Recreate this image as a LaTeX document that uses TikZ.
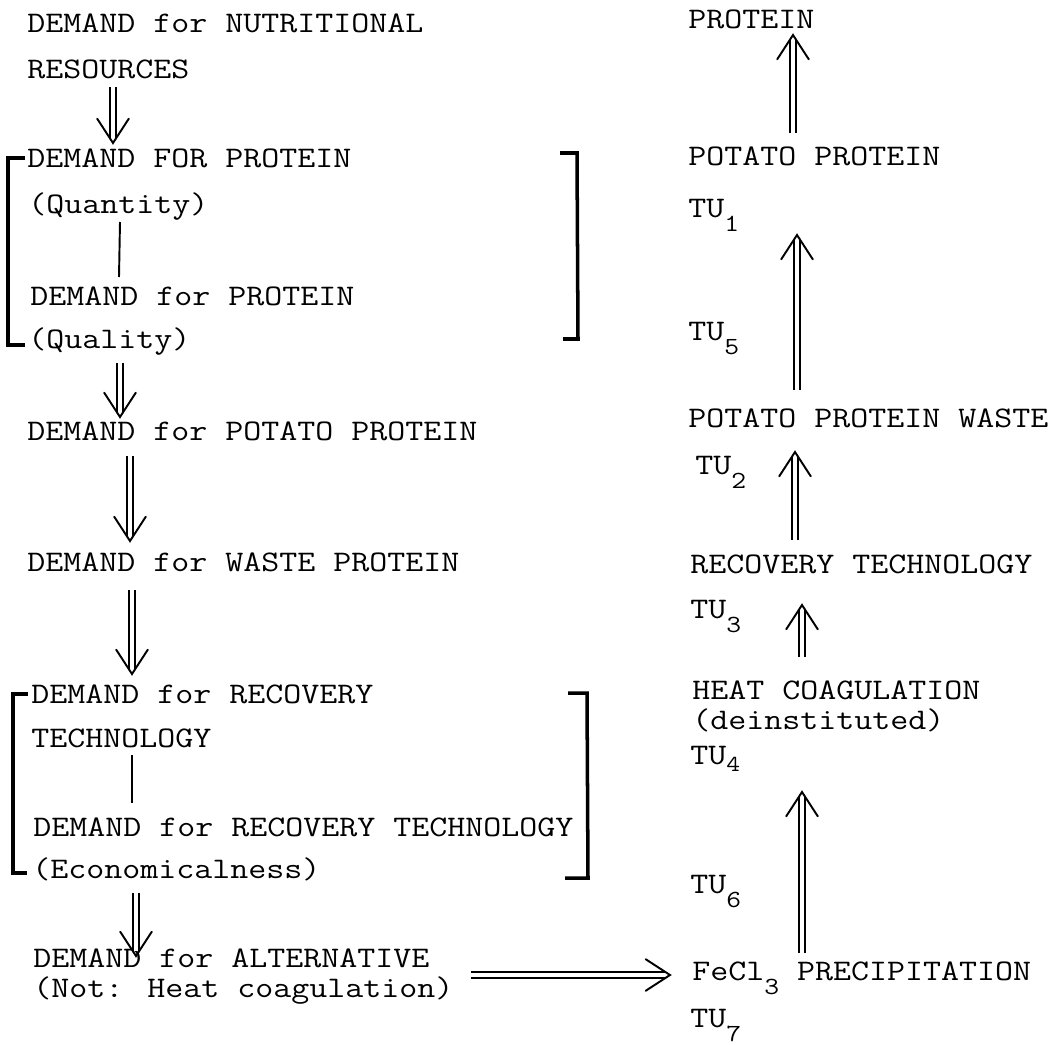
\documentclass[tikz,border=0pt]{standalone}
\usepackage{graphicx}
\usetikzlibrary{calc}
\newcommand{\tw}[1]{\scalebox{1.17}[1]{#1}}
\newcommand{\lowdigit}[1]{\raisebox{-0.5em}{\fontsize{14}{16}\selectfont #1}}
\newcommand{\dblarrow}[2]{%
  \draw[shaft] (#1) -- (#2);
  \draw[vhead] ($(#2)!0.58cm!33:(#1)$) -- (#2) -- ($(#2)!0.58cm!-33:(#1)$);}

\begin{document}
\begin{tikzpicture}[x=0.02cm, y=-0.02cm,
    txt/.style={anchor=base west, inner sep=0pt, font=\ttfamily\fontsize{17}{20}\selectfont},
    shaft/.style={double, double distance=2.6pt, line width=1pt, shorten >=0.1cm},
    vhead/.style={line width=1.1pt, line cap=round},
    link/.style={line width=1.1pt},
    bracket/.style={line width=2pt, line join=miter}]
  \useasboundingbox (0,0) rectangle (1059,1045);

  % Demand chain
  \node[txt] (nutr) at (27,32) {\tw{DEMAND for NUTRITIONAL}};
  \node[txt] (res) at (27,78) {\tw{RESOURCES}};
  \node[txt] (protqn) at (27,167) {\tw{DEMAND FOR PROTEIN}};
  \node[txt] (qty) at (28,213) {\tw{(Quantity)}};
  \node[txt] (protql) at (30,305) {\tw{DEMAND for PROTEIN}};
  \node[txt] (qual) at (28,348) {\tw{(Quality)}};
  \node[txt] (potd) at (27,440) {\tw{DEMAND for POTATO PROTEIN}};
  \node[txt] (wasted) at (27,571) {\tw{DEMAND for WASTE PROTEIN}};
  \node[txt] (recd) at (31,703) {\tw{DEMAND for RECOVERY}};
  \node[txt] (tech) at (31,747) {\tw{TECHNOLOGY}};
  \node[txt] (recte) at (33,836) {\tw{DEMAND for RECOVERY TECHNOLOGY}};
  \node[txt] (econ) at (32,878) {\tw{(Economicalness)}};
  \node[txt] (altd) at (33,967) {\tw{DEMAND for ALTERNATIVE}};
  \node[txt] (notheat) at (33,997) {\tw{(Not: Heat coagulation)}};

  % Technology chain
  \node[txt] (prot) at (688,28) {\tw{PROTEIN}};
  \node[txt] (potp) at (688,165) {\tw{POTATO PROTEIN}};
  \node[txt] (tu1) at (688,217) {\tw{TU\lowdigit{1}}};
  \node[txt] (tu5) at (688,340) {\tw{TU\lowdigit{5}}};
  \node[txt] (ppw) at (688,427) {\tw{POTATO PROTEIN WASTE}};
  \node[txt] (tu2) at (695,474) {\tw{TU\lowdigit{2}}};
  \node[txt] (rect) at (690,573) {\tw{RECOVERY TECHNOLOGY}};
  \node[txt] (tu3) at (690,618) {\tw{TU\lowdigit{3}}};
  \node[txt] (heat) at (692,699) {\tw{HEAT COAGULATION}};
  \node[txt] (deinst) at (692,729) {\tw{(deinstituted)}};
  \node[txt] (tu4) at (690,764) {\tw{TU\raisebox{-0.25em}{\fontsize{13}{15}\selectfont 4}}};
  \node[txt] (tu6) at (690,893) {\tw{TU\lowdigit{6}}};
  \node[txt] (fecl) at (692,980) {\tw{FeCl\lowdigit{3} PRECIPITATION}};
  \node[txt] (tu7) at (690,1027) {\tw{TU\lowdigit{7}}};

  % Arrow ends
  \coordinate (a1s) at ($(res.base west)+(86,9)$);
  \coordinate (a1e) at ($(protqn.base west)+(86,-24)$);
  \coordinate (a2s) at ($(qual.base west)+(92,15)$);
  \coordinate (a2e) at ($(potd.base west)+(93,-23)$);
  \coordinate (a3s) at ($(potd.base west)+(103,16)$);
  \coordinate (a3e) at ($(wasted.base west)+(103,-30)$);
  \coordinate (a4s) at ($(wasted.base west)+(105,19)$);
  \coordinate (a4e) at ($(recd.base west)+(101,-29)$);
  \coordinate (a5s) at ($(econ.base west)+(104,15)$);
  \coordinate (a5e) at ($(altd.base west)+(103,-11)$);
  \coordinate (b1s) at ($(potp.base west)+(105,-32)$);
  \coordinate (b1e) at ($(prot.base west)+(105,7)$);
  \coordinate (b2s) at ($(ppw.base west)+(109,-37)$);
  \coordinate (b2e) at ($(tu1.base west)+(109,18)$);
  \coordinate (b3s) at ($(rect.base west)+(105,-33)$);
  \coordinate (b3e) at ($(ppw.base west)+(107,25)$);
  \coordinate (b4s) at ($(heat.base west)+(110,-42)$);
  \coordinate (b4e) at ($(rect.base west)+(112,32)$);
  \coordinate (b5s) at ($(fecl.base west)+(110,-27)$);
  \coordinate (b5e) at ($(tu4.base west)+(112,28)$);
  \coordinate (hs) at ($(altd.base west)+(438,8)$);
  \coordinate (he) at ($(fecl.base west)+(-22,-5)$);

  % Double arrows
  \dblarrow{a1s}{a1e}
  \dblarrow{a2s}{a2e}
  \dblarrow{a3s}{a3e}
  \dblarrow{a4s}{a4e}
  \dblarrow{a5s}{a5e}
  \dblarrow{b1s}{b1e}
  \dblarrow{b2s}{b2e}
  \dblarrow{b3s}{b3e}
  \dblarrow{b4s}{b4e}
  \dblarrow{b5s}{b5e}
  \dblarrow{hs}{he}

  % Plain links
  \draw[link] ($(qty.base west)+(92,9)$) -- ($(protql.base west)+(89,-28)$);
  \draw[link] ($(tech.base west)+(101,8)$) -- ($(recte.base west)+(99,-33)$);

  % Brackets
  \draw[bracket] (25,158) -- (8,158) -- (8,345) -- (25,345);
  \draw[bracket] (560,153) -- (577,153) -- (578,339) -- (563,339);
  \draw[bracket] (28,694) -- (13,694) -- (13,873) -- (27,873);
  \draw[bracket] (568,693) -- (587,693) -- (588,878) -- (565,878);
\end{tikzpicture}
\end{document}
